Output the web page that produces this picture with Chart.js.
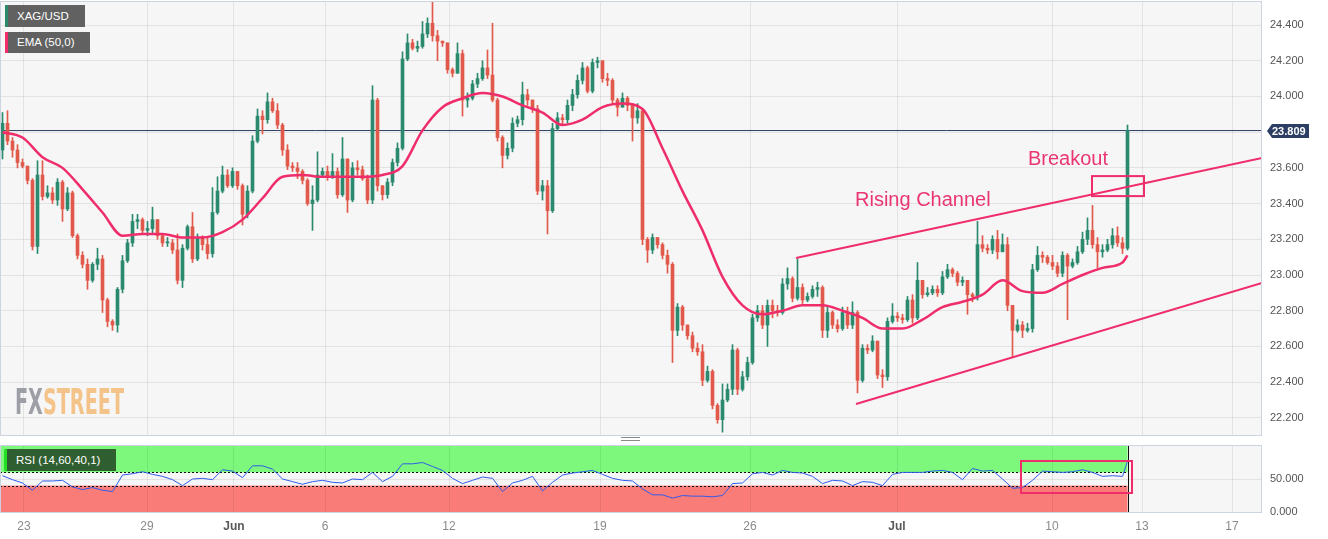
<!DOCTYPE html>
<html lang="en">
<head>
<meta charset="utf-8">
<title>XAG/USD</title>
<script src="https://cdn.jsdelivr.net/npm/chart.js@4.4.1/dist/chart.umd.min.js"></script>
<style>
  html, body { margin: 0; padding: 0; background: #ffffff; }
  #page { position: relative; width: 1328px; height: 539px; overflow: hidden; font-family: "Liberation Sans", Arial, sans-serif; }
  #mainWrap { position: absolute; left: 0; top: 0; width: 1328px; height: 440px; }
  #rsiWrap { position: absolute; left: 0; top: 440px; width: 1328px; height: 99px; }
  .tag { position: absolute; left: 5px; height: 22px; line-height: 22px; padding-left: 9px; box-sizing: border-box; color: #fff; font-size: 11.5px; background: #616161; white-space: nowrap; }
  .note { position: absolute; color: #ea3572; font-size: 20px; line-height: 20px; white-space: nowrap; }
  #handle { position: absolute; left: 621px; top: 437px; width: 19px; height: 2px; border-top: 1px solid #8a8a8a; border-bottom: 1px solid #8a8a8a; }
  #logo { position: absolute; left: 15px; top: 384px; font-family: "Liberation Sans Narrow", "DejaVu Sans Condensed", sans-serif; font-weight: bold; font-size: 36px; line-height: 36px; white-space: nowrap; transform-origin: 0 0; }
  #logo .fx { color: #9d9fa6; }
  #logo .st { color: #f3c389; }
</style>
</head>
<body>
<div id="page">
  <div id="mainWrap"><canvas id="mainChart"></canvas></div>
  <div id="rsiWrap"><canvas id="rsiChart"></canvas></div>
  <div class="tag" style="top:5px;width:80px;border-left:3px solid #2b8a6e;">XAG/USD</div>
  <div class="tag" style="top:32px;width:85px;height:21px;line-height:21px;border-left:3px solid #ef2d6b;">EMA (50,0)</div>
  <div class="tag" style="left:4px;top:449px;width:112px;background:#2f5f30;border-left:3px solid #22e022;">RSI (14,60,40,1)</div>
  <div class="note" style="left:855px;top:189px;">Rising Channel</div>
  <div class="note" style="left:1028px;top:148px;">Breakout</div>
  <div id="logo"><span class="fx">FX</span><span class="st">STREET</span></div>
  <div id="handle"></div>
</div>
<script>
// ---- data (one candle ~ 1/6 of a trading day) ----
const dayLabels = ['23', '29', 'Jun', '6', '12', '19', '26', 'Jul', '10', '13', '17'];
const dayTickIdx = [4.3, 28.9, 46.3, 64.5, 89.3, 119.5, 149.5, 178.9, 209.9, 227.9, 245.9];
const priceTicks = [22.2, 22.4, 22.6, 22.8, 23.0, 23.2, 23.4, 23.6, 23.8, 24.0, 24.2, 24.4];
const rsiTicks = [0, 50];

const firstOpen = 23.70;
const closes = [
  23.85, 23.75, 23.70, 23.63, 23.61, 23.53, 23.16, 23.56, 23.44, 23.46,
  23.42, 23.52, 23.37, 23.46, 23.22, 23.11, 23.06, 22.97, 23.06, 23.09,
  22.86, 22.74, 22.72, 22.92, 23.08, 23.18, 23.30, 23.31, 23.25, 23.26,
  23.31, 23.22, 23.18, 23.18, 23.14, 22.97, 23.15, 23.27, 23.09, 23.21,
  23.17, 23.12, 23.35, 23.47, 23.56, 23.50, 23.58, 23.50, 23.34, 23.47,
  23.75, 23.89, 23.87, 23.97, 23.92, 23.84, 23.70, 23.61, 23.60, 23.58,
  23.53, 23.40, 23.42, 23.56, 23.58, 23.55, 23.58, 23.45, 23.65, 23.42,
  23.60, 23.59, 23.54, 23.42, 23.98, 23.50, 23.45, 23.52, 23.63, 23.71,
  24.21, 24.30, 24.27, 24.28, 24.35, 24.41, 24.34, 24.31, 24.30, 24.15,
  24.13, 24.24, 23.98, 23.99, 24.07, 24.10, 24.16, 24.12, 23.98, 23.77,
  23.67, 23.71, 23.85, 23.87, 24.01, 23.98, 23.93, 23.47, 23.50, 23.36,
  23.82, 23.88, 23.87, 23.95, 24.01, 24.09, 24.16, 24.03, 24.19, 24.20,
  24.10, 24.09, 23.98, 23.94, 23.99, 23.95, 23.88, 23.92, 23.20, 23.14,
  23.21, 23.17, 23.11, 23.06, 22.69, 22.82, 22.72, 22.66, 22.59, 22.57,
  22.41, 22.46, 22.27, 22.19, 22.30, 22.36, 22.58, 22.36, 22.43, 22.51,
  22.76, 22.80, 22.72, 22.83, 22.80, 22.79, 22.95, 22.98, 22.87, 22.93,
  22.86, 22.88, 22.92, 22.93, 22.69, 22.79, 22.72, 22.70, 22.79, 22.72,
  22.79, 22.41, 22.59, 22.58, 22.63, 22.44, 22.43, 22.74, 22.77, 22.76,
  22.75, 22.86, 22.76, 22.97, 22.89, 22.90, 22.92, 22.90, 22.99, 23.03,
  23.01, 22.96, 22.97, 22.89, 22.88, 23.17, 23.15, 23.14, 23.20, 23.13,
  23.17, 22.83, 22.69, 22.72, 22.69, 22.70, 23.03, 23.11, 23.10, 23.07,
  23.05, 23.01, 23.11, 23.05, 23.07, 23.13, 23.20, 23.25, 23.17, 23.13,
  23.14, 23.17, 23.22, 23.18, 23.15, 23.809
];
const highs = [
  23.91, 23.92, 23.77, 23.73, 23.65, 23.61, 23.54, 23.64, 23.64, 23.50,
  23.49, 23.54, 23.53, 23.49, 23.47, 23.23, 23.13, 23.09, 23.07, 23.15,
  23.11, 22.87, 22.75, 22.93, 23.11, 23.20, 23.34, 23.34, 23.32, 23.30,
  23.38, 23.31, 23.23, 23.21, 23.20, 23.23, 23.17, 23.28, 23.35, 23.23,
  23.22, 23.21, 23.49, 23.55, 23.61, 23.59, 23.60, 23.56, 23.51, 23.50,
  23.78, 23.93, 23.92, 24.02, 23.99, 23.96, 23.85, 23.73, 23.63, 23.63,
  23.59, 23.54, 23.50, 23.69, 23.60, 23.61, 23.68, 23.60, 23.77, 23.65,
  23.63, 23.64, 23.61, 23.56, 24.06, 23.99, 23.50, 23.54, 23.65, 23.74,
  24.25, 24.35, 24.32, 24.31, 24.42, 24.44, 24.53, 24.37, 24.31, 24.30,
  24.16, 24.30, 24.26, 24.02, 24.09, 24.13, 24.20, 24.26, 24.41, 23.99,
  23.78, 23.74, 23.88, 23.89, 24.08, 24.04, 23.98, 23.95, 23.53, 23.53,
  23.85, 23.91, 23.90, 23.98, 24.04, 24.12, 24.19, 24.17, 24.21, 24.22,
  24.20, 24.13, 24.10, 23.99, 24.02, 24.00, 23.96, 23.96, 23.93, 23.21,
  23.23, 23.20, 23.18, 23.14, 23.07, 22.84, 22.83, 22.72, 22.68, 22.62,
  22.61, 22.49, 22.47, 22.28, 22.39, 22.39, 22.61, 22.59, 22.46, 22.54,
  22.78, 22.83, 22.83, 22.86, 22.86, 22.83, 22.98, 23.04, 22.99, 23.09,
  22.95, 22.90, 22.94, 22.96, 22.94, 22.82, 22.80, 22.75, 22.82, 22.82,
  22.85, 22.80, 22.61, 22.61, 22.66, 22.63, 22.47, 22.76, 22.84, 22.79,
  22.78, 22.88, 22.89, 23.07, 22.97, 22.93, 22.94, 22.94, 23.02, 23.06,
  23.04, 23.02, 22.99, 22.97, 22.90, 23.30, 23.22, 23.17, 23.22, 23.25,
  23.23, 23.21, 22.83, 22.75, 22.74, 22.73, 23.06, 23.16, 23.13, 23.11,
  23.11, 23.07, 23.13, 23.12, 23.09, 23.16, 23.24, 23.32, 23.39, 23.21,
  23.17, 23.20, 23.26, 23.27, 23.21, 23.84
];
const lows = [
  23.65, 23.73, 23.66, 23.60, 23.60, 23.51, 23.14, 23.12, 23.42, 23.43,
  23.40, 23.39, 23.30, 23.36, 23.21, 23.09, 23.04, 22.92, 22.96, 23.03,
  22.79, 22.71, 22.69, 22.68, 22.90, 23.07, 23.16, 23.26, 23.23, 23.22,
  23.23, 23.20, 23.16, 23.16, 23.12, 22.95, 22.93, 23.14, 23.07, 23.08,
  23.14, 23.09, 23.10, 23.34, 23.46, 23.49, 23.49, 23.48, 23.28, 23.32,
  23.46, 23.74, 23.79, 23.85, 23.91, 23.82, 23.67, 23.59, 23.58, 23.54,
  23.51, 23.39, 23.25, 23.41, 23.55, 23.53, 23.54, 23.43, 23.44, 23.35,
  23.41, 23.56, 23.53, 23.40, 23.40, 23.47, 23.42, 23.43, 23.50, 23.61,
  23.70, 24.20, 24.26, 24.25, 24.27, 24.33, 24.31, 24.20, 24.28, 24.13,
  24.11, 24.13, 23.89, 23.94, 23.98, 24.05, 24.09, 24.10, 23.97, 23.75,
  23.60, 23.65, 23.69, 23.83, 23.84, 23.95, 23.91, 23.45, 23.42, 23.23,
  23.35, 23.81, 23.84, 23.85, 23.92, 23.99, 24.07, 24.02, 24.02, 24.16,
  24.08, 24.06, 23.96, 23.89, 23.94, 23.92, 23.75, 23.85, 23.17, 23.07,
  23.12, 23.15, 23.09, 23.01, 22.51, 22.66, 22.69, 22.64, 22.57, 22.55,
  22.38, 22.40, 22.25, 22.17, 22.12, 22.29, 22.33, 22.33, 22.35, 22.41,
  22.50, 22.74, 22.70, 22.60, 22.76, 22.77, 22.78, 22.92, 22.85, 22.86,
  22.84, 22.85, 22.87, 22.88, 22.65, 22.65, 22.70, 22.68, 22.69, 22.70,
  22.70, 22.34, 22.40, 22.56, 22.57, 22.42, 22.37, 22.41, 22.73, 22.74,
  22.73, 22.74, 22.73, 22.75, 22.87, 22.88, 22.89, 22.88, 22.89, 22.98,
  22.99, 22.94, 22.94, 22.78, 22.85, 22.86, 23.13, 23.12, 23.12, 23.09,
  23.14, 22.80, 22.54, 22.68, 22.65, 22.68, 22.68, 23.02, 23.07, 23.06,
  23.03, 22.99, 22.99, 22.75, 23.04, 23.06, 23.12, 23.17, 23.15, 23.04,
  23.10, 23.13, 23.15, 23.16, 23.12, 23.14
];
// EMA (50) read every 4 candles, last value at the last candle
const emaValues = [
  23.80, 23.77, 23.66, 23.60, 23.48, 23.35, 23.22, 23.23, 23.23, 23.21,
  23.21, 23.24, 23.31, 23.43, 23.55, 23.56, 23.55, 23.55, 23.55, 23.56,
  23.61, 23.81, 23.94, 23.99, 24.02, 24.00, 23.95, 23.91, 23.84, 23.87,
  23.94, 23.96, 23.93, 23.71, 23.47, 23.25, 22.99, 22.83, 22.78, 22.80,
  22.83, 22.83, 22.80, 22.76, 22.70, 22.70, 22.75, 22.82, 22.85, 22.89,
  22.97, 22.91, 22.90, 22.95, 23.00, 23.04, 23.07, 23.11
];
// RSI (14) read every 2 candles, last value at the last candle
const rsiValues = [
  55, 49, 44, 33, 47, 47, 48, 38, 34, 37, 33, 31, 56, 58, 61, 57, 54, 49, 40, 50,
  51, 49, 64, 62, 52, 70, 70, 65, 50, 46, 42, 46, 48, 45, 44, 50, 49, 60, 46, 54,
  73, 73, 75, 69, 63, 51, 43, 48, 53, 51, 31, 44, 48, 54, 32, 45, 56, 59, 61, 63,
  57, 51, 48, 47, 35, 26, 26, 21, 25, 24, 24, 23, 25, 43, 44, 58, 60, 56, 63, 60,
  59, 54, 43, 48, 47, 40, 46, 45, 40, 57, 60, 60, 60, 62, 63, 60, 49, 66, 62, 63,
  50, 36, 37, 48, 62, 61, 60, 61, 64, 60, 54, 55, 54, 77
];
const EMA_STEP = 4;
const RSI_STEP = 2;
const RSI_HIGH = 60;
const RSI_LOW = 40;

// annotations, in data units
const channelUpper = [{ x: 158.7, y: 23.095 }, { x: 251.9, y: 23.655 }];
const channelLower = [{ x: 170.7, y: 22.278 }, { x: 251.9, y: 22.955 }];
const breakoutBox = { x0: 217.9, x1: 228.3, y0: 23.554, y1: 23.442 };
const rsiBox = { x0: 203.7, x1: 225.9, y0: 77.3, y1: 28.8 };

// ---- setup ----
const X_MIN = -0.5;
const X_MAX = 251.9;
const P_MIN = 22.104;
const P_MAX = 24.529;
const GREEN = '#2b8a6e';
const RED = '#e0594a';
const PINK = '#ef2d6b';
const NAVY = '#2c3e63';
const GRID = 'rgba(0,0,0,0.075)';
const FONT = '"Liberation Sans", Arial, sans-serif';
const lastIdx = closes.length - 1;
const lastPrice = closes[lastIdx];

const bodyData = [];
const wickData = [];
const candleColors = [];
for (let i = 0; i < closes.length; i++) {
  const o = i === 0 ? firstOpen : closes[i - 1];
  const c = closes[i];
  bodyData.push({ x: i, y: [o, c] });
  wickData.push({ x: i, y: [Math.min(lows[i], o, c), Math.max(highs[i], o, c)] });
  candleColors.push(c >= o ? GREEN : RED);
}
const emaPoints = emaValues.map((v, k) => ({ x: Math.min(k * EMA_STEP, lastIdx), y: v }));
const rsiPoints = rsiValues.map((v, k) => ({ x: Math.min(k * RSI_STEP, lastIdx), y: v }));

function fixedTicks(list) {
  return scale => { scale.ticks = list.map(v => ({ value: v })); };
}

function drawBorder(ctx, a) {
  ctx.save();
  ctx.strokeStyle = '#ccd4e2';
  ctx.lineWidth = 1;
  ctx.strokeRect(a.left + 0.5, a.top - 0.5, a.width - 1, a.height + 1);
  ctx.restore();
}

function strokeBox(chart, box) {
  const { ctx, scales: { x, y } } = chart;
  const x0 = x.getPixelForValue(box.x0), x1 = x.getPixelForValue(box.x1);
  const y0 = y.getPixelForValue(box.y0), y1 = y.getPixelForValue(box.y1);
  ctx.save();
  ctx.strokeStyle = PINK;
  ctx.lineWidth = 2;
  ctx.strokeRect(x0, y0, x1 - x0, y1 - y0);
  ctx.restore();
}

const mainDecor = {
  id: 'mainDecor',
  beforeDraw(chart) {
    const { ctx, chartArea: a } = chart;
    ctx.save();
    ctx.fillStyle = '#f6f6f6';
    ctx.fillRect(a.left, a.top, a.width, a.height);
    ctx.restore();
  },
  afterDraw(chart) {
    const { ctx, chartArea: a, scales: { y } } = chart;
    strokeBox(chart, breakoutBox);
    drawBorder(ctx, a);
    // last price tag on the axis
    const py = Math.round(y.getPixelForValue(lastPrice));
    ctx.save();
    ctx.fillStyle = NAVY;
    ctx.beginPath();
    ctx.moveTo(a.right + 5, py);
    ctx.lineTo(a.right + 10, py - 7);
    ctx.lineTo(a.right + 47, py - 7);
    ctx.lineTo(a.right + 47, py + 7);
    ctx.lineTo(a.right + 10, py + 7);
    ctx.closePath();
    ctx.fill();
    ctx.fillStyle = '#ffffff';
    ctx.font = 'bold 11px ' + FONT;
    ctx.textBaseline = 'middle';
    ctx.fillText(lastPrice.toFixed(3), a.right + 10, py + 0.5);
    ctx.restore();
  }
};

const rsiDecor = {
  id: 'rsiDecor',
  beforeDraw(chart) {
    const { ctx, chartArea: a, scales: { x, y } } = chart;
    const xEnd = x.getPixelForValue(lastIdx);
    const yHigh = y.getPixelForValue(RSI_HIGH);
    const yLow = y.getPixelForValue(RSI_LOW);
    ctx.save();
    ctx.fillStyle = '#f6f6f6';
    ctx.fillRect(a.left, a.top, a.width, a.height);
    ctx.fillStyle = '#7df87d';
    ctx.fillRect(a.left, a.top, xEnd - a.left, yHigh - a.top);
    ctx.fillStyle = '#fa7c79';
    ctx.fillRect(a.left, yLow, xEnd - a.left, a.bottom - yLow);
    ctx.restore();
  },
  beforeDatasetsDraw(chart) {
    const { ctx, chartArea: a, scales: { x, y } } = chart;
    const xEnd = Math.round(x.getPixelForValue(lastIdx)) + 0.5;
    ctx.save();
    ctx.strokeStyle = '#111111';
    ctx.lineWidth = 1;
    ctx.setLineDash([2, 2]);
    [RSI_HIGH, RSI_LOW].forEach(v => {
      const py = Math.round(y.getPixelForValue(v)) + 0.5;
      ctx.beginPath();
      ctx.moveTo(a.left, py);
      ctx.lineTo(xEnd, py);
      ctx.stroke();
    });
    ctx.setLineDash([]);
    ctx.beginPath();
    ctx.moveTo(a.left + 0.5, a.top);
    ctx.lineTo(a.left + 0.5, a.bottom);
    ctx.moveTo(xEnd, a.top);
    ctx.lineTo(xEnd, a.bottom);
    ctx.stroke();
    ctx.restore();
  },
  afterDraw(chart) {
    strokeBox(chart, rsiBox);
    drawBorder(chart.ctx, chart.chartArea);
  }
};

const mainChart = new Chart(document.getElementById('mainChart'), {
  type: 'bar',
  data: {
    datasets: [
      { type: 'line', label: 'Upper channel', data: channelUpper, borderColor: PINK, borderWidth: 2, pointRadius: 0, order: 0 },
      { type: 'line', label: 'Lower channel', data: channelLower, borderColor: PINK, borderWidth: 2, pointRadius: 0, order: 0 },
      { type: 'line', label: 'EMA (50,0)', data: emaPoints, borderColor: PINK, borderWidth: 2.5, pointRadius: 0, cubicInterpolationMode: 'monotone', order: 1 },
      { type: 'bar', label: 'Bodies', data: bodyData, backgroundColor: candleColors, barThickness: 3, minBarLength: 1, grouped: false, order: 3 },
      { type: 'bar', label: 'Wicks', data: wickData, backgroundColor: candleColors, barThickness: 1, grouped: false, order: 4 },
      { type: 'line', label: 'Last', data: [{ x: X_MIN, y: lastPrice }, { x: X_MAX, y: lastPrice }], borderColor: NAVY, borderWidth: 1, pointRadius: 0, order: 5 }
    ]
  },
  options: {
    responsive: true,
    maintainAspectRatio: false,
    animation: false,
    events: [],
    layout: { padding: { top: 2, bottom: 5, left: 0, right: 0 } },
    plugins: { legend: { display: false }, tooltip: { enabled: false } },
    scales: {
      x: {
        type: 'linear', min: X_MIN, max: X_MAX, offset: false,
        grid: { color: GRID, drawTicks: false, offset: false },
        border: { display: false },
        ticks: { display: false },
        afterBuildTicks: fixedTicks(dayTickIdx),
        afterFit: s => { s.height = 0; s.paddingLeft = 0; s.paddingRight = 0; }
      },
      y: {
        position: 'right', min: P_MIN, max: P_MAX,
        grid: { color: GRID, drawTicks: false },
        border: { display: false },
        ticks: { padding: 8, color: '#555555', font: { family: FONT, size: 11 }, callback: v => v.toFixed(3) },
        afterBuildTicks: fixedTicks(priceTicks),
        afterFit: s => { s.width = 66; s.paddingTop = 0; s.paddingBottom = 0; }
      }
    }
  },
  plugins: [mainDecor]
});

const rsiChart = new Chart(document.getElementById('rsiChart'), {
  type: 'line',
  data: {
    datasets: [
      { label: 'RSI (14,60,40,1)', data: rsiPoints, borderColor: '#2f5bea', borderWidth: 1, pointRadius: 0, tension: 0 }
    ]
  },
  options: {
    responsive: true,
    maintainAspectRatio: false,
    animation: false,
    events: [],
    layout: { padding: { top: 6, bottom: 0, left: 0, right: 0 } },
    plugins: { legend: { display: false }, tooltip: { enabled: false } },
    scales: {
      x: {
        type: 'linear', min: X_MIN, max: X_MAX, offset: false,
        grid: { color: GRID, drawTicks: false },
        border: { display: false },
        ticks: {
          padding: 7, autoSkip: false, maxRotation: 0,
          color: ctx => (dayLabels[ctx.index] === 'Jun' || dayLabels[ctx.index] === 'Jul') ? '#5a5a5a' : '#8a8a8a',
          font: ctx => ({ family: FONT, size: 12, weight: (dayLabels[ctx.index] === 'Jun' || dayLabels[ctx.index] === 'Jul') ? 'bold' : 'normal' }),
          callback: (v, i) => dayLabels[i]
        },
        afterBuildTicks: fixedTicks(dayTickIdx),
        afterFit: s => { s.height = 27; s.paddingLeft = 0; s.paddingRight = 0; }
      },
      y: {
        position: 'right', min: 0, max: 100,
        grid: { color: GRID, drawTicks: false },
        border: { display: false },
        ticks: { padding: 8, color: '#555555', font: { family: FONT, size: 11 }, callback: v => v.toFixed(3) },
        afterBuildTicks: fixedTicks(rsiTicks),
        afterFit: s => { s.width = 66; s.paddingTop = 0; s.paddingBottom = 0; }
      }
    }
  },
  plugins: [rsiDecor]
});

// squeeze the watermark to its condensed width
const logo = document.getElementById('logo');
const logoWidth = logo.getBoundingClientRect().width;
logo.style.transform = 'scaleX(' + (109 / logoWidth).toFixed(3) + ')';
</script>
</body>
</html>
